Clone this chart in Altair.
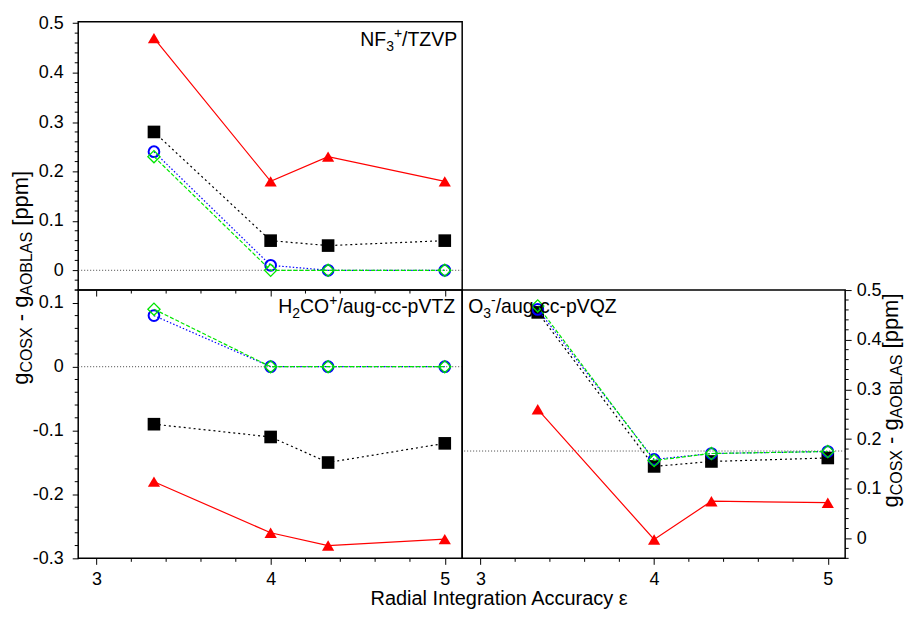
import altair as alt
import pandas as pd

# ---------------- data ----------------
x_eps = [3.33, 4.0, 4.33, 5.0]

nf3_tri = [0.47, 0.18, 0.23, 0.18]
nf3_sq = [0.28, 0.06, 0.05, 0.06]
nf3_circ = [0.24, 0.01, 0.0, 0.0]
nf3_dia = [0.23, 0.0, 0.0, 0.0]

h2co_tri = [-0.18, -0.26, -0.28, -0.27]
h2co_sq = [-0.09, -0.11, -0.15, -0.12]
h2co_circ = [0.08, 0.0, 0.0, 0.0]
h2co_dia = [0.09, 0.0, 0.0, 0.0]

o3_tri = [0.26, -0.002, 0.075, 0.072]
o3_sq = [0.455, 0.145, 0.155, 0.162]
o3_circ = [0.461, 0.159, 0.171, 0.175]
o3_dia = [0.468, 0.157, 0.171, 0.175]

nf3_ref = 0.0
h2co_ref = 0.0
o3_ref = 0.176

x_ticks = [3, 4, 5]
x_minor = [3.2, 3.4, 3.6, 3.8, 4.2, 4.4, 4.6, 4.8]
nf3_yticks = [0, 0.1, 0.2, 0.3, 0.4, 0.5]
h2co_yticks = [-0.3, -0.2, -0.1, 0, 0.1]
o3_yticks = [0, 0.1, 0.2, 0.3, 0.4, 0.5]

x_domain = [2.895, 5.1]
nf3_domain = [-0.04, 0.503]
h2co_domain = [-0.3, 0.12]
o3_domain = [-0.04, 0.5]

x_title = "Radial Integration Accuracy ε"

# ---------------- style ----------------
FONT = "Liberation Sans"
W_L, W_R, H = 385, 384, 269
ONE = pd.DataFrame({"k": [0]})
TRI_PATH = "M -1 0.85 L 0 -0.85 L 1 0.85 Z"

STYLES = [
    ("tri", dict(color="#ff0000", dash=None, shape=TRI_PATH, filled=True, size=150, sw=0)),
    ("sq", dict(color="#000000", dash=[2, 3], shape="square", filled=True, size=160, sw=0)),
    ("circ", dict(color="#0000ff", dash=[1.5, 2], shape="circle", filled=False, size=115, sw=2)),
    ("dia", dict(color="#00e600", dash=[4, 2], shape="diamond", filled=False, size=150, sw=1.3)),
]

ARIAL = {
    "N": .722, "F": .611, "3": .556, "+": .584, "/": .278, "T": .611, "Z": .611,
    "V": .667, "P": .667, "H": .722, "2": .556, "C": .722, "O": .778, "a": .556,
    "u": .556, "g": .556, "-": .333, "c": .5, "p": .556, "Q": .778, "S": .667,
    "X": .667, "A": .667, "B": .667, "L": .556, "[": .278, "]": .278, "m": .833,
    " ": .278,
}


def text_w(s, fs):
    return sum(ARIAL.get(c, 0.556) for c in s) * fs


def text_mark(t, x, y, fs, angle=0, align="left"):
    return alt.Chart(ONE).mark_text(
        text=t, font=FONT, fontSize=fs, align=align, baseline="alphabetic",
        angle=angle, color="black"
    ).encode(x=alt.value(x), y=alt.value(y))


def rich_label(segs, anchor_x, base_y, align="right", main=19.5, small=14):
    sizes = [main if r == "main" else small for _, r in segs]
    widths = [text_w(t, fs) for (t, _), fs in zip(segs, sizes)]
    x = anchor_x - sum(widths) if align == "right" else anchor_x
    out = []
    for (t, r), fs, w in zip(segs, sizes, widths):
        dy = {"main": 0, "sub": 5.5, "sup": -8}[r]
        out.append(text_mark(t, x, base_y + dy, fs))
        x += w
    return out


def y_title(xmain, start_y, big=22, small=16, sub_dx=3.5):
    # rotated title, reading bottom to top; subscripts shifted to +x
    pieces = [("g", "main", 0), ("COSX", "sub", 1), ("-", "main", 1), ("g", "main", 0),
              ("AOBLAS", "sub", 1), ("[ppm]", "main", 0)]
    out = []
    y = start_y
    for t, r, gap_after in pieces:
        fs = big if r == "main" else small
        x = xmain if r == "main" else xmain + sub_dx
        out.append(text_mark(t, x, y, fs, angle=270))
        y -= text_w(t, fs) + gap_after * text_w(" ", big)
    return out


LABEL_EXPR = "replace(datum.label, '\u2212', '-')"


def panel(series_vals, ydom, yticks, ref, yorient, show_xlabels, width, extra):
    xs = alt.Scale(domain=x_domain, nice=False, zero=False)
    ys = alt.Scale(domain=ydom, nice=False, zero=False)
    xaxis = alt.Axis(values=x_ticks, labels=show_xlabels, ticks=True, tickSize=6,
                     tickColor="black", tickWidth=1, domain=False, grid=False, title=None,
                     labelFont=FONT, labelFontSize=18, labelColor="black", labelPadding=6,
                     format="d", orient="bottom")
    yaxis = alt.Axis(values=yticks, orient=yorient, ticks=True, tickSize=6, tickColor="black",
                     tickWidth=1, domain=False, grid=False, title=None,
                     labelFont=FONT, labelFontSize=18, labelColor="black",
                     labelPadding=9 if yorient == "left" else 5,
                     format=".1~f", labelExpr=LABEL_EXPR)
    layers = []
    layers.append(
        alt.Chart(ONE).mark_rule(color="#444444", strokeDash=[1, 2], strokeWidth=1).encode(
            y=alt.YDatum(ref, type="quantitative", scale=ys, axis=yaxis)
        )
    )
    for key, st in STYLES:
        df = pd.DataFrame({"x": x_eps, "y": series_vals[key]})
        lkw = dict(color=st["color"], strokeWidth=1.2)
        if st["dash"] is not None:
            lkw["strokeDash"] = st["dash"]
        layers.append(
            alt.Chart(df).mark_line(**lkw).encode(
                x=alt.X("x:Q", scale=xs, axis=xaxis),
                y=alt.Y("y:Q", scale=ys, axis=yaxis),
            )
        )
        pkw = dict(shape=st["shape"], size=st["size"], opacity=1, filled=st["filled"])
        if st["filled"]:
            pkw["fill"] = st["color"]
            pkw["strokeWidth"] = 0
        else:
            pkw["stroke"] = st["color"]
            pkw["strokeWidth"] = st["sw"]
        layers.append(
            alt.Chart(df).mark_point(**pkw).encode(
                x=alt.X("x:Q", scale=xs, axis=xaxis),
                y=alt.Y("y:Q", scale=ys, axis=yaxis),
            )
        )
    # minor ticks
    lo, hi = ydom
    yminor = [round(k * 0.02, 2) for k in range(-20, 30)
              if k % 5 != 0 and lo - 1e-9 <= k * 0.02 <= hi + 1e-9]
    if yorient == "left":
        xa, xb = -3.5, 0
    else:
        xa, xb = width, width + 3.5
    layers.append(
        alt.Chart(pd.DataFrame({"v": yminor})).mark_rule(color="black", strokeWidth=1).encode(
            y=alt.Y("v:Q", scale=ys, axis=yaxis), x=alt.value(xa), x2=alt.value(xb)
        )
    )
    layers.append(
        alt.Chart(pd.DataFrame({"v": x_minor})).mark_rule(color="black", strokeWidth=1).encode(
            x=alt.X("v:Q", scale=xs, axis=xaxis), y=alt.value(H), y2=alt.value(H + 3.5)
        )
    )
    layers.extend(extra)
    return alt.layer(*layers).properties(width=width, height=H)


# ---------------- annotations ----------------
tl_extra = rich_label([("NF", "main"), ("3", "sub"), ("+", "sup"), ("/TZVP", "main")], 380, 24)
tl_extra += y_title(-50, 364)

bl_extra = rich_label([("H", "main"), ("2", "sub"), ("CO", "main"), ("+", "sup"),
                       ("/aug-cc-pVTZ", "main")], 378, 23)
bl_extra.append(text_mark(x_title, 422, 316, 20, align="center"))

br_extra = rich_label([("O", "main"), ("3", "sub"), ("-", "sup"), ("/aug-cc-pVQZ", "main")],
                      6, 23, align="left")
br_extra += y_title(437, 218)

tl = panel(dict(tri=nf3_tri, sq=nf3_sq, circ=nf3_circ, dia=nf3_dia), nf3_domain, nf3_yticks,
           nf3_ref, "left", False, W_L, tl_extra)
bl = panel(dict(tri=h2co_tri, sq=h2co_sq, circ=h2co_circ, dia=h2co_dia), h2co_domain,
           h2co_yticks, h2co_ref, "left", True, W_L, bl_extra)
br = panel(dict(tri=o3_tri, sq=o3_sq, circ=o3_circ, dia=o3_dia), o3_domain, o3_yticks,
           o3_ref, "right", True, W_R, br_extra)

spacer = alt.Chart(ONE).mark_point(opacity=0).encode(
    x=alt.value(0), y=alt.value(0)
).properties(width=W_R, height=H, view=alt.ViewBackground(stroke="transparent"))

chart = alt.concat(
    tl, spacer, bl, br, columns=2, spacing=0, bounds="flush"
).resolve_scale(
    x="independent", y="independent"
).properties(
    padding={"left": 1.4, "top": 4, "right": 0, "bottom": 0},
    background="white",
).configure_view(stroke="black", strokeWidth=1.5)

chart.save("out.html", embed_options={"renderer": "svg", "actions": False})
